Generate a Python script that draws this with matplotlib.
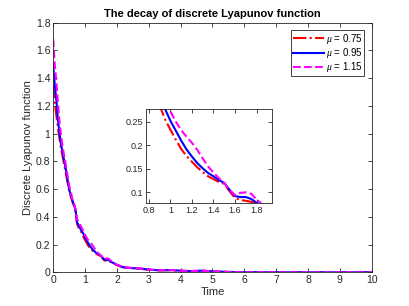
import matplotlib
matplotlib.use("Agg")
import matplotlib.pyplot as plt

plt.rcParams['font.family'] = ['Liberation Sans', 'DejaVu Sans']
plt.rcParams['mathtext.fontset'] = 'custom'
plt.rcParams['mathtext.it'] = 'Liberation Serif:italic'

t = [0.0, 0.05, 0.1, 0.15, 0.2, 0.25, 0.3, 0.4, 0.5, 0.6, 0.65, 0.7, 0.75, 0.8, 0.85,
     0.9, 0.95, 1.0, 1.05, 1.1, 1.15, 1.2, 1.25, 1.3, 1.35, 1.4, 1.45, 1.5, 1.55, 1.6,
     1.65, 1.7, 1.75, 1.8, 1.85, 1.9, 2.0, 2.2, 2.5, 2.7, 3.0, 3.3, 3.7, 4.0, 4.3, 4.7,
     5.0, 5.5, 6.0, 7.0, 8.0, 10.0]

v075 = [1.35, 1.22, 1.13, 1.04, 0.96, 0.89, 0.83, 0.71, 0.59, 0.51, 0.48, 0.44, 0.35, 0.32, 0.30,
        0.285, 0.255, 0.233, 0.212, 0.192, 0.177, 0.165, 0.153, 0.143, 0.134, 0.128, 0.122, 0.118, 0.102, 0.088,
        0.084, 0.082, 0.080, 0.076, 0.070, 0.064, 0.052, 0.036, 0.029, 0.027, 0.019, 0.014, 0.015, 0.011, 0.008, 0.011,
        0.006, 0.003, 0.001, 0.0003, 0.0001, 0.0]

v095 = [1.50, 1.35, 1.24, 1.10, 1.00, 0.92, 0.86, 0.74, 0.60, 0.52, 0.49, 0.45, 0.36, 0.34, 0.315,
        0.297, 0.277, 0.252, 0.231, 0.210, 0.191, 0.176, 0.162, 0.151, 0.141, 0.134, 0.126, 0.120, 0.105, 0.092,
        0.090, 0.090, 0.086, 0.078, 0.072, 0.066, 0.054, 0.037, 0.030, 0.028, 0.020, 0.015, 0.016, 0.012, 0.009, 0.012,
        0.007, 0.003, 0.001, 0.0003, 0.0001, 0.0]

v115 = [1.68, 1.50, 1.37, 1.22, 1.08, 0.98, 0.90, 0.77, 0.63, 0.53, 0.50, 0.46, 0.38, 0.37, 0.34,
        0.32, 0.295, 0.272, 0.25, 0.232, 0.218, 0.205, 0.19, 0.172, 0.155, 0.142, 0.130, 0.120, 0.105, 0.094,
        0.099, 0.100, 0.097, 0.085, 0.075, 0.068, 0.056, 0.038, 0.031, 0.029, 0.020, 0.015, 0.017, 0.012, 0.009, 0.012,
        0.007, 0.003, 0.001, 0.0003, 0.0001, 0.0]

labels = ['$\\mu$ = 0.75', '$\\mu$ = 0.95', '$\\mu$ = 1.15']
xticks = [0, 1, 2, 3, 4, 5, 6, 7, 8, 9, 10]
yticks = [0, 0.2, 0.4, 0.6, 0.8, 1, 1.2, 1.4, 1.6, 1.8]
ixticks = [0.8, 1, 1.2, 1.4, 1.6, 1.8]
iyticks = [0.1, 0.15, 0.2, 0.25]

fig = plt.figure(figsize=(4.09, 3.06), dpi=100)
ax = fig.add_axes([0.130, 0.110, 0.779, 0.816])

styles = [dict(color='#ff0000', ls='-.', lw=1.5),
          dict(color='#0000ff', ls='-', lw=1.5),
          dict(color='#ff00ff', ls='--', lw=1.5)]
series = [v075, v095, v115]

for v, st, lab in zip(series, styles, labels):
    ax.plot(t, v, label=lab, **st)

def style_axes(a, fs):
    for s in a.spines.values():
        s.set_color('#262626')
        s.set_linewidth(0.6)
    a.tick_params(direction='in', top=True, right=True, length=3, width=0.6,
                  colors='#262626', labelsize=fs, pad=2)

ax.set_xlim(0, 10)
ax.set_ylim(0, 1.8)
ax.set_xticks(xticks)
ax.set_xticklabels([str(x) for x in xticks])
ax.set_yticks(yticks)
ax.set_yticklabels(['0', '0.2', '0.4', '0.6', '0.8', '1', '1.2', '1.4', '1.6', '1.8'])
style_axes(ax, 7.5)
ax.set_xlabel('Time', fontsize=8, color='#262626', labelpad=1)
ax.set_ylabel('Discrete Lyapunov function', fontsize=8, color='#262626', labelpad=2)
ax.set_title('The decay of discrete Lyapunov function', fontsize=8, fontweight='bold', pad=4)

leg = ax.legend(loc='upper right', fontsize=7, handlelength=3.2, handletextpad=0.15,
                borderpad=0.2, labelspacing=0.02, fancybox=False, framealpha=1,
                edgecolor='#262626', borderaxespad=0.75)
leg.get_frame().set_linewidth(0.6)

ins = fig.add_axes([0.356, 0.336, 0.3095, 0.308])
for v, st in zip(series, styles):
    ins.plot(t, v, **st)
ins.set_xlim(0.77, 1.945)
ins.set_ylim(0.077, 0.277)
ins.set_xticks(ixticks)
ins.set_xticklabels(['0.8', '1', '1.2', '1.4', '1.6', '1.8'])
ins.set_yticks(iyticks)
ins.set_yticklabels(['0.1', '0.15', '0.2', '0.25'])
style_axes(ins, 6.5)

fig.savefig('out.png', dpi=100)
